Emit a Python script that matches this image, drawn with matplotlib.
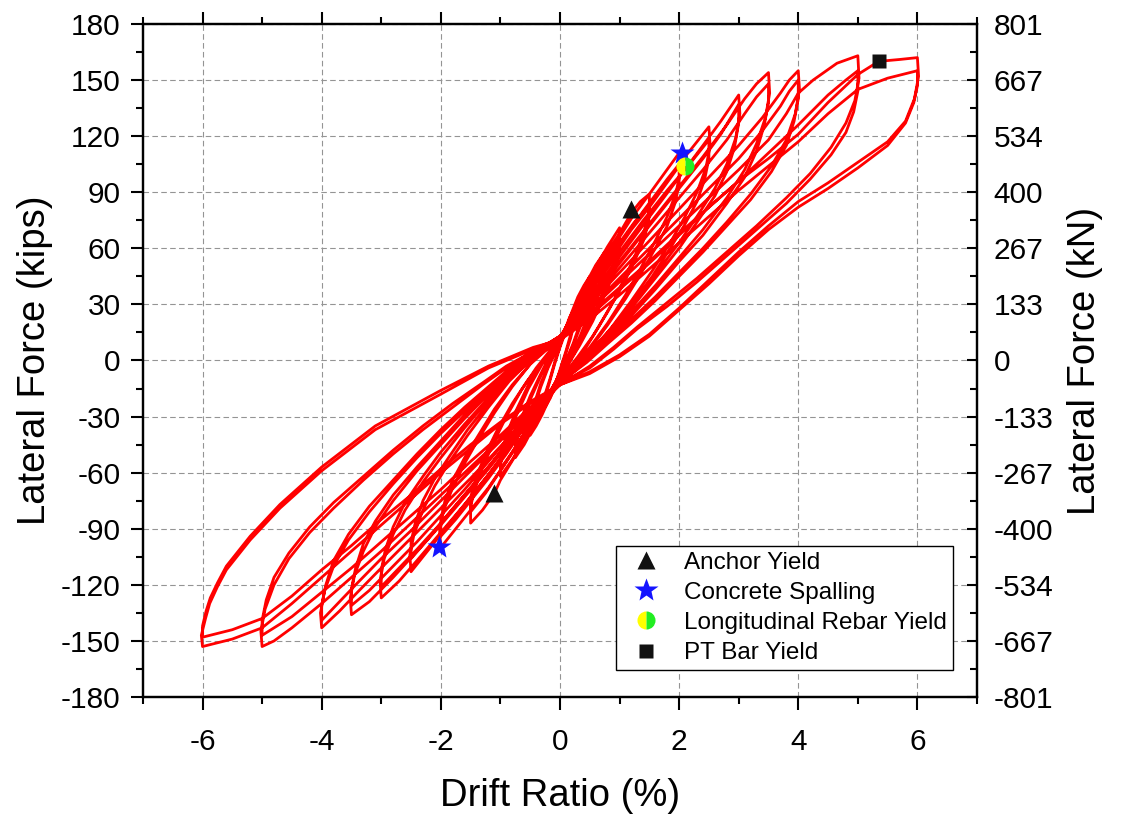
import matplotlib
matplotlib.use("Agg")
import matplotlib.pyplot as plt
from matplotlib.ticker import MultipleLocator, FixedLocator, FixedFormatter

plt.rcParams['font.family'] = ['Liberation Sans', 'DejaVu Sans']

# ---- cyclic test record: (drift %, lateral force kips), one list per cycle ----
cyc_025a = [(0, 8), (0.08, 16), (0.16, 23), (0.25, 28), (0.24, 22), (0.18, 14), (0.1, 5), (0.03, -2),
            (0, -5), (-0.08, -13), (-0.16, -20), (-0.25, -25), (-0.24, -19), (-0.17, -11), (-0.09, -2),
            (-0.03, 4), (0, 7)]
cyc_025b = [(0, 7), (0.08, 14), (0.16, 21), (0.25, 26), (0.24, 20), (0.18, 12), (0.1, 4), (0.03, -3),
            (0, -6), (-0.08, -12), (-0.16, -18), (-0.25, -23), (-0.24, -17), (-0.17, -10), (-0.09, -1),
            (-0.03, 5), (0, 8)]
cyc_050a = [(0, 8), (0.1, 17), (0.2, 26), (0.3, 34), (0.4, 40), (0.5, 45), (0.49, 38), (0.43, 30),
            (0.34, 20), (0.22, 9), (0.1, 0), (0, -6), (-0.1, -14), (-0.2, -22), (-0.3, -29), (-0.4, -35),
            (-0.5, -40), (-0.49, -33), (-0.42, -24), (-0.32, -14), (-0.2, -4), (-0.08, 4), (0, 8)]
cyc_050b = [(0, 9), (0.1, 16), (0.2, 24), (0.3, 31), (0.4, 37), (0.5, 42), (0.49, 35), (0.43, 27),
            (0.34, 18), (0.22, 8), (0.1, -1), (0, -7), (-0.1, -13), (-0.2, -20), (-0.3, -27),
            (-0.4, -33), (-0.5, -38), (-0.49, -31), (-0.42, -22), (-0.32, -12), (-0.2, -3),
            (-0.08, 5), (0, 9)]
cyc_075a = [(0, 9), (0.15, 21), (0.3, 32), (0.45, 42), (0.6, 51), (0.75, 58), (0.74, 50), (0.66, 40),
            (0.52, 28), (0.35, 14), (0.18, 2), (0, -7), (-0.15, -17), (-0.3, -27), (-0.45, -36),
            (-0.6, -45), (-0.75, -52), (-0.74, -44), (-0.65, -34), (-0.5, -21), (-0.32, -8),
            (-0.15, 3), (0, 9)]
cyc_075b = [(0, 10), (0.15, 20), (0.3, 30), (0.45, 39), (0.6, 48), (0.75, 55), (0.74, 47),
            (0.66, 37), (0.52, 25), (0.35, 12), (0.18, 1), (0, -8), (-0.15, -16), (-0.3, -25),
            (-0.45, -34), (-0.6, -42), (-0.75, -49), (-0.74, -41), (-0.65, -31), (-0.5, -19),
            (-0.32, -7), (-0.15, 4), (0, 10)]
cyc_100a = [(0, 10), (0.2, 25), (0.4, 38), (0.6, 50), (0.8, 61), (1.0, 71), (0.99, 62), (0.9, 51),
            (0.75, 38), (0.55, 23), (0.33, 9), (0.12, -3), (0, -9), (-0.2, -20), (-0.4, -31),
            (-0.6, -42), (-0.8, -53), (-1.0, -62), (-0.99, -54), (-0.9, -43), (-0.74, -30),
            (-0.53, -15), (-0.3, -2), (-0.12, 6), (0, 10)]
cyc_100b = [(0, 9), (0.2, 22), (0.4, 34), (0.6, 46), (0.8, 57), (1.0, 66), (0.99, 57), (0.9, 47),
            (0.75, 35), (0.55, 21), (0.33, 8), (0.12, -3), (0, -8), (-0.2, -18), (-0.4, -29),
            (-0.6, -39), (-0.8, -49), (-1.0, -58), (-0.99, -50), (-0.9, -40), (-0.74, -27),
            (-0.53, -13), (-0.3, -1), (-0.12, 6), (0, 9)]
cyc_150a = [(0, 11), (0.25, 27), (0.5, 42), (0.75, 56), (1.0, 68), (1.2, 79), (1.35, 85), (1.5, 89),
            (1.5, 80), (1.42, 70), (1.3, 59), (1.1, 45), (0.9, 32), (0.65, 18), (0.4, 5), (0.2, -4),
            (0, -11), (-0.25, -24), (-0.5, -37), (-0.75, -51), (-1.0, -64), (-1.1, -71), (-1.3, -80),
            (-1.5, -87), (-1.5, -78), (-1.42, -68), (-1.3, -57), (-1.1, -43), (-0.9, -30),
            (-0.65, -16), (-0.4, -4), (-0.2, 4), (0, 10)]
cyc_150b = [(0, 10), (0.25, 25), (0.5, 39), (0.75, 52), (1.0, 63), (1.25, 74), (1.5, 83), (1.49, 74),
            (1.4, 64), (1.25, 53), (1.05, 40), (0.8, 26), (0.55, 13), (0.3, 2), (0.1, -6), (0, -10),
            (-0.25, -22), (-0.5, -34), (-0.75, -47), (-1.0, -59), (-1.25, -71), (-1.5, -81),
            (-1.49, -72), (-1.4, -62), (-1.25, -50), (-1.05, -37), (-0.8, -23), (-0.55, -11),
            (-0.3, -1), (-0.1, 6), (0, 9)]
cyc_200a = [(0, 12), (0.3, 30), (0.6, 46), (0.9, 61), (1.2, 76), (1.5, 89), (1.75, 100), (2.0, 111),
            (2.02, 101), (1.95, 90), (1.8, 77), (1.6, 64), (1.35, 49), (1.1, 35), (0.8, 20), (0.5, 7),
            (0.25, -3), (0, -11), (-0.3, -25), (-0.6, -39), (-0.9, -54), (-1.2, -68), (-1.5, -80),
            (-1.75, -90), (-2.0, -100), (-2.02, -91), (-1.95, -80), (-1.8, -68), (-1.6, -55),
            (-1.35, -41), (-1.1, -28), (-0.8, -14), (-0.5, -2), (-0.25, 6), (0, 11)]
cyc_200b = [(0, 11), (0.3, 27), (0.6, 42), (0.9, 56), (1.2, 70), (1.5, 82), (1.75, 93), (2.0, 104),
            (2.0, 94), (1.93, 84), (1.8, 72), (1.6, 60), (1.35, 46), (1.1, 33), (0.8, 19), (0.5, 6),
            (0.25, -3), (0, -10), (-0.3, -23), (-0.6, -36), (-0.9, -50), (-1.2, -63), (-1.5, -75),
            (-1.75, -85), (-2.0, -94), (-2.0, -85), (-1.93, -75), (-1.8, -64), (-1.6, -52),
            (-1.35, -39), (-1.1, -26), (-0.8, -13), (-0.5, -2), (-0.25, 5), (0, 10)]
cyc_250a = [(0, 12), (0.3, 29), (0.6, 44), (1.0, 62), (1.4, 80), (1.8, 97), (2.2, 113), (2.5, 125),
            (2.52, 115), (2.45, 103), (2.3, 90), (2.1, 77), (1.85, 63), (1.55, 48), (1.2, 32),
            (0.85, 17), (0.5, 4), (0.2, -5), (0, -11), (-0.3, -24), (-0.7, -40), (-1.1, -57),
            (-1.5, -73), (-1.9, -89), (-2.2, -101), (-2.5, -113), (-2.52, -104), (-2.45, -93),
            (-2.3, -80), (-2.1, -67), (-1.85, -54), (-1.55, -40), (-1.2, -25), (-0.85, -11),
            (-0.5, 0), (-0.2, 7), (0, 11)]
cyc_250b = [(0, 11), (0.3, 27), (0.6, 41), (1.0, 58), (1.4, 75), (1.8, 91), (2.2, 106), (2.5, 118),
            (2.5, 108), (2.43, 97), (2.3, 85), (2.1, 73), (1.85, 60), (1.55, 45), (1.2, 30), (0.85, 16),
            (0.5, 4), (0.2, -5), (0, -10), (-0.3, -22), (-0.7, -37), (-1.1, -53), (-1.5, -68),
            (-1.9, -83), (-2.2, -95), (-2.5, -106), (-2.5, -97), (-2.43, -87), (-2.3, -75),
            (-2.1, -63), (-1.85, -51), (-1.55, -37), (-1.2, -23), (-0.85, -10), (-0.5, 0),
            (-0.2, 7), (0, 11)]
cyc_300a = [(0, 12), (0.4, 30), (0.8, 47), (1.2, 64), (1.6, 81), (2.0, 98), (2.4, 115), (2.7, 128),
            (3.0, 142), (3.02, 132), (2.95, 119), (2.8, 105), (2.6, 92), (2.3, 77), (2.0, 63),
            (1.6, 46), (1.2, 30), (0.8, 15), (0.45, 3), (0.2, -5), (0, -12), (-0.4, -27), (-0.8, -44),
            (-1.2, -61), (-1.6, -77), (-2.0, -92), (-2.4, -107), (-2.7, -118), (-3.0, -127),
            (-3.02, -118), (-2.95, -106), (-2.8, -93), (-2.6, -80), (-2.3, -65), (-2.0, -52),
            (-1.6, -36), (-1.2, -21), (-0.8, -8), (-0.45, 2), (-0.2, 8), (0, 12)]
cyc_300b = [(0, 11), (0.4, 28), (0.8, 44), (1.2, 60), (1.6, 76), (2.0, 92), (2.4, 108), (2.7, 121),
            (3.0, 137), (3.0, 127), (2.93, 114), (2.8, 101), (2.6, 88), (2.3, 74), (2.0, 60), (1.6, 44),
            (1.2, 28), (0.8, 14), (0.45, 2), (0.2, -5), (0, -11), (-0.4, -25), (-0.8, -41),
            (-1.2, -57), (-1.6, -72), (-2.0, -87), (-2.4, -101), (-2.7, -111), (-3.0, -121),
            (-3.0, -112), (-2.93, -101), (-2.8, -89), (-2.6, -76), (-2.3, -62), (-2.0, -49),
            (-1.6, -34), (-1.2, -20), (-0.8, -7), (-0.45, 2), (-0.2, 8), (0, 11)]
cyc_350a = [(0, 13), (0.4, 29), (0.8, 45), (1.2, 61), (1.6, 77), (2.0, 93), (2.4, 109), (2.8, 126),
            (3.1, 140), (3.3, 148), (3.5, 154), (3.52, 143), (3.45, 130), (3.3, 116), (3.1, 102),
            (2.8, 87), (2.4, 70), (2.0, 55), (1.6, 40), (1.2, 26), (0.8, 12), (0.45, 1), (0.2, -6),
            (0, -12), (-0.4, -26), (-0.8, -42), (-1.2, -58), (-1.6, -73), (-2.0, -88), (-2.4, -102),
            (-2.8, -116), (-3.2, -129), (-3.5, -136), (-3.52, -127), (-3.45, -115), (-3.3, -102),
            (-3.1, -89), (-2.8, -75), (-2.4, -59), (-2.0, -45), (-1.6, -31), (-1.2, -18), (-0.8, -6),
            (-0.45, 3), (-0.2, 9), (0, 13)]
cyc_350b = [(0, 12), (0.4, 27), (0.8, 42), (1.2, 57), (1.6, 72), (2.0, 87), (2.4, 102), (2.8, 118),
            (3.1, 132), (3.3, 141), (3.5, 148), (3.5, 138), (3.43, 126), (3.3, 112), (3.1, 98),
            (2.8, 84), (2.4, 67), (2.0, 53), (1.6, 38), (1.2, 24), (0.8, 11), (0.45, 0), (0.2, -6),
            (0, -11), (-0.4, -24), (-0.8, -39), (-1.2, -54), (-1.6, -69), (-2.0, -83), (-2.4, -97),
            (-2.8, -110), (-3.2, -123), (-3.5, -131), (-3.5, -122), (-3.43, -111), (-3.3, -98),
            (-3.1, -86), (-2.8, -72), (-2.4, -57), (-2.0, -43), (-1.6, -29), (-1.2, -17), (-0.8, -5),
            (-0.45, 3), (-0.2, 8), (0, 12)]
cyc_400a = [(0, 13), (0.5, 30), (1.0, 47), (1.5, 64), (2.0, 81), (2.5, 98), (3.0, 115), (3.4, 130),
            (3.7, 143), (3.85, 150), (4.0, 155), (4.02, 145), (3.95, 132), (3.8, 118), (3.55, 104),
            (3.2, 89), (2.8, 74), (2.4, 60), (2.0, 47), (1.6, 34), (1.2, 22), (0.8, 10), (0.45, 0),
            (0.2, -7), (0, -13), (-0.5, -29), (-1.0, -46), (-1.5, -63), (-2.0, -79), (-2.5, -95),
            (-3.0, -111), (-3.4, -124), (-3.7, -134), (-4.0, -143), (-4.02, -135), (-3.95, -123),
            (-3.8, -110), (-3.55, -96), (-3.2, -81), (-2.8, -66), (-2.4, -52), (-2.0, -39),
            (-1.6, -27), (-1.2, -15), (-0.8, -4), (-0.45, 4), (-0.2, 9), (0, 13)]
cyc_400b = [(0, 12), (0.5, 28), (1.0, 44), (1.5, 60), (2.0, 76), (2.5, 92), (3.0, 108), (3.4, 123),
            (3.7, 136), (3.85, 144), (4.0, 150), (4.0, 140), (3.93, 128), (3.8, 115), (3.55, 101),
            (3.2, 86), (2.8, 72), (2.4, 58), (2.0, 45), (1.6, 32), (1.2, 20), (0.8, 9), (0.45, -1),
            (0.2, -7), (0, -12), (-0.5, -27), (-1.0, -43), (-1.5, -59), (-2.0, -75), (-2.5, -91),
            (-3.0, -106), (-3.4, -119), (-3.7, -129), (-4.0, -139), (-4.0, -131), (-3.93, -120),
            (-3.8, -107), (-3.55, -93), (-3.2, -78), (-2.8, -64), (-2.4, -50), (-2.0, -37),
            (-1.6, -25), (-1.2, -14), (-0.8, -3), (-0.45, 4), (-0.2, 9), (0, 12)]
cyc_500a = [(0, 13), (0.5, 27), (1.0, 42), (1.5, 57), (2.0, 72), (2.5, 87), (3.0, 102), (3.5, 118),
            (3.8, 132), (4.0, 143), (4.25, 150), (4.65, 159), (5.0, 163), (5.02, 151), (4.95, 139),
            (4.8, 127), (4.55, 114), (4.2, 100), (3.8, 87), (3.3, 72), (2.8, 58), (2.3, 44), (1.8, 31),
            (1.3, 18), (0.9, 7), (0.5, -3), (0.2, -9), (0, -13), (-0.5, -27), (-1.0, -42), (-1.5, -57),
            (-2.0, -72), (-2.5, -87), (-3.0, -102), (-3.5, -116), (-4.0, -130), (-4.5, -143),
            (-4.8, -150), (-5.0, -153), (-5.02, -145), (-4.95, -133), (-4.8, -120), (-4.55, -106),
            (-4.2, -92), (-3.8, -79), (-3.3, -64), (-2.8, -50), (-2.3, -37), (-1.8, -25), (-1.3, -13),
            (-0.9, -4), (-0.5, 4), (-0.2, 9), (0, 13)]
cyc_500b = [(0, 12), (0.5, 25), (1.0, 39), (1.5, 53), (2.0, 68), (2.5, 82), (3.0, 96), (3.5, 111),
            (4.0, 126), (4.5, 142), (4.8, 150), (5.0, 155), (5.0, 144), (4.93, 133), (4.8, 122),
            (4.55, 110), (4.2, 97), (3.8, 84), (3.3, 70), (2.8, 56), (2.3, 42), (1.8, 29), (1.3, 17),
            (0.9, 6), (0.5, -4), (0.2, -9), (0, -12), (-0.5, -25), (-1.0, -40), (-1.5, -54),
            (-2.0, -69), (-2.5, -83), (-3.0, -97), (-3.5, -111), (-4.0, -124), (-4.5, -137),
            (-5.0, -147), (-5.0, -139), (-4.93, -128), (-4.8, -116), (-4.55, -103), (-4.2, -89),
            (-3.8, -76), (-3.3, -62), (-2.8, -48), (-2.3, -35), (-1.8, -23), (-1.3, -12), (-0.9, -3),
            (-0.5, 4), (-0.2, 9), (0, 12)]
cyc_600a = [(0, 12), (0.5, 24), (1.0, 38), (1.5, 52), (2.0, 67), (2.5, 82), (3.0, 96), (3.5, 108),
            (4.0, 121), (4.5, 138), (5.0, 153), (5.35, 160), (5.7, 161), (6.0, 162), (6.02, 152),
            (5.95, 140), (5.8, 128), (5.5, 117), (5.0, 106), (4.5, 95), (4.0, 85), (3.5, 72),
            (3.0, 58), (2.5, 43), (2.0, 28), (1.5, 14), (1.0, 3), (0.5, -6), (0, -13), (-0.5, -23),
            (-1.0, -34), (-1.5, -47), (-2.0, -60), (-2.5, -74), (-3.0, -88), (-3.5, -102),
            (-4.0, -116), (-4.5, -130), (-5.0, -143), (-5.5, -149), (-6.0, -153), (-6.02, -147),
            (-5.95, -138), (-5.88, -130), (-5.75, -121), (-5.6, -112), (-5.4, -104), (-5.2, -96),
            (-4.7, -79), (-4.0, -59), (-3.1, -37), (-2.0, -18), (-1.2, -4), (-0.45, 6), (0, 12)]
cyc_600b = [(0, 11), (0.5, 22), (1.0, 35), (1.5, 49), (2.0, 63), (2.5, 77), (3.0, 91), (3.5, 104),
            (4.0, 117), (4.5, 132), (5.0, 145), (5.5, 151), (6.0, 155), (6.0, 147), (5.94, 138),
            (5.8, 127), (5.5, 115), (5.0, 103), (4.5, 92), (4.0, 82), (3.5, 70), (3.0, 56), (2.5, 41),
            (2.0, 27), (1.5, 13), (1.0, 2), (0.5, -7), (0, -13), (-0.5, -22), (-1.0, -33),
            (-1.5, -45), (-2.0, -58), (-2.5, -72), (-3.0, -85), (-3.5, -99), (-4.0, -112),
            (-4.5, -126), (-5.0, -138), (-5.5, -144), (-6.0, -148), (-6.0, -142), (-5.94, -134),
            (-5.87, -127), (-5.75, -119), (-5.6, -110), (-5.4, -102), (-5.2, -94), (-4.7, -77),
            (-4.0, -57), (-3.1, -35), (-2.0, -16), (-1.2, -3), (-0.45, 7), (0, 11)]

loading_sequence = [cyc_025a, cyc_025b, cyc_050a, cyc_050b, cyc_075a, cyc_075b, cyc_100a, cyc_100b,
                    cyc_150a, cyc_150b, cyc_200a, cyc_200b, cyc_250a, cyc_250b, cyc_300a, cyc_300b,
                    cyc_350a, cyc_350b, cyc_400a, cyc_400b, cyc_500a, cyc_500b, cyc_600a, cyc_600b]

# ---- damage states ----
anchor_x, anchor_y = [1.2, -1.1], [81, -71]
spall_x, spall_y = [2.05, -2.03], [111, -100]
rebar_x, rebar_y = [2.1], [104]
ptbar_x, ptbar_y = [5.35], [160]

x_ticks = [-6, -4, -2, 0, 2, 4, 6]
y_ticks = [-180, -150, -120, -90, -60, -30, 0, 30, 60, 90, 120, 150, 180]
KIP_TO_KN = 4.448

drift = [p[0] for cyc in loading_sequence for p in cyc]
force = [p[1] for cyc in loading_sequence for p in cyc]

fig = plt.figure(figsize=(11.4, 8.18), dpi=100)
ax = fig.add_axes([0.1254, 0.1479, 0.7316, 0.8228])

ax.plot(drift, force, color='#ff0000', lw=2.0, solid_joinstyle='round', zorder=3)

ax.plot(anchor_x, anchor_y, ls='none', marker='^', ms=13, color='#111111', mec='none',
        label='Anchor Yield', zorder=5)
ax.plot(spall_x, spall_y, ls='none', marker='*', ms=18, color='#1414ff', mec='none',
        label='Concrete Spalling', zorder=5)
ax.plot(rebar_x, rebar_y, ls='none', marker='o', ms=13, fillstyle='left',
        markerfacecolor='#ffff00', markerfacecoloralt='#22ee22', mec='none',
        label='Longitudinal Rebar Yield', zorder=5)
ax.plot(ptbar_x, ptbar_y, ls='none', marker='s', ms=10, color='#111111', mec='none',
        label='PT Bar Yield', zorder=5)

ax.set_xlim(-7, 7)
ax.set_ylim(-180, 180)
ax.xaxis.set_major_locator(FixedLocator(x_ticks))
ax.xaxis.set_minor_locator(MultipleLocator(1))
ax.yaxis.set_major_locator(FixedLocator(y_ticks))
ax.yaxis.set_minor_locator(MultipleLocator(15))
ax.set_xticklabels([f'{t:d}' for t in x_ticks])
ax.set_yticklabels([f'{t:d}' for t in y_ticks])

ax.grid(True, which='major', color='#949494', lw=0.8, ls=(0, (5, 3)), zorder=0)

for s in ax.spines.values():
    s.set_linewidth(1.6)

ax.tick_params(axis='both', which='major', labelsize=21.5, width=1.5, length=9, direction='out')
ax.tick_params(axis='both', which='minor', width=1.5, length=5, direction='out')
ax.tick_params(axis='x', which='major', pad=13)
ax.tick_params(axis='y', which='major', pad=7)
ax.tick_params(axis='x', which='both', top=True)
ax.tick_params(axis='y', which='both', right=False)

ax.set_xlabel('Drift Ratio (%)', fontsize=27.5, labelpad=16)
ax.set_ylabel('Lateral Force (kips)', fontsize=27.5, labelpad=6)

ax2 = ax.twinx()
ax2.set_ylim(-180, 180)
ax2.yaxis.set_major_locator(FixedLocator(y_ticks))
ax2.yaxis.set_minor_locator(MultipleLocator(15))
ax2.yaxis.set_major_formatter(FixedFormatter([f'{round(t * KIP_TO_KN):d}' for t in y_ticks]))
ax2.tick_params(axis='y', which='major', labelsize=21.5, width=1.5, length=7, direction='in', pad=12)
ax2.tick_params(axis='y', which='minor', width=1.5, length=5, direction='in')
ax2.set_ylabel('Lateral Force (kN)', fontsize=27.5, labelpad=10)
for s in ax2.spines.values():
    s.set_linewidth(1.6)

leg = ax.legend(loc='lower right', bbox_to_anchor=(0.971, 0.040), borderaxespad=0,
                fontsize=17.5, frameon=True, fancybox=False, edgecolor='black', framealpha=1,
                handletextpad=0.55, labelspacing=0.33, borderpad=0.25, handlelength=2.0)
leg.get_frame().set_linewidth(1.0)

fig.savefig('out.png', dpi=100)
